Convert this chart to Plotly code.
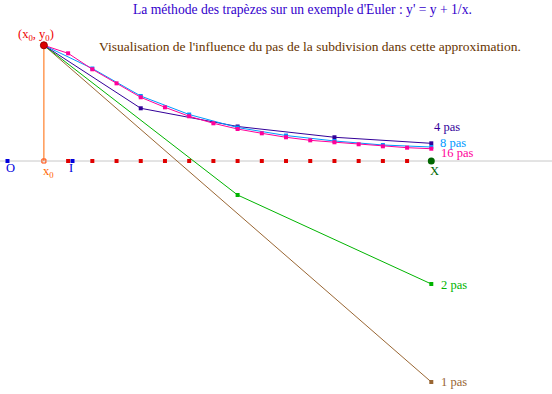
import plotly.graph_objects as go

W, H = 552, 394
# frame: origin O and unit I (math units), in window pixels
O_PX, AXIS_PY, UNIT = 7.5, 161.0, 65.0

# abscissas of the subdivision (x0 .. X)
x16 = [0.56, 0.9325, 1.305, 1.6775, 2.05, 2.4225, 2.795, 3.1675, 3.54,
       3.9125, 4.285, 4.6575, 5.03, 5.4025, 5.775, 6.1475, 6.52]
x8 = [0.56, 1.305, 2.05, 2.795, 3.54, 4.285, 5.03, 5.775, 6.52]
x4 = [0.56, 2.05, 3.54, 5.03, 6.52]
x2 = [0.56, 3.54, 6.52]
x1 = [0.56, 6.52]

y0 = 1.78
y_1pas = [1.78, -3.40]
y_2pas = [1.78, -0.523, -1.892]
y_4pas = [1.78, 0.811, 0.531, 0.365, 0.272]
y_8pas = [1.78, 1.423, 1.000, 0.715, 0.515, 0.392, 0.308, 0.246, 0.215]
y_16pas = [1.78, 1.657, 1.411, 1.195, 0.980, 0.826, 0.688, 0.580, 0.492,
           0.426, 0.365, 0.318, 0.288, 0.257, 0.226, 0.205, 0.189]

labels = ["1 pas", "2 pas", "4 pas", "8 pas", "16 pas"]

C_BROWN, C_GREEN, C_DBLUE, C_LBLUE, C_PINK = "#996633", "#00b400", "#330099", "#0099ff", "#ff0099"
FONT = "Liberation Serif"

fig = go.Figure()

# axis ranges so that window pixels map onto the frame
xr = [(0 - O_PX) / UNIT, (W - O_PX) / UNIT]
yr = [(AXIS_PY - H) / UNIT, AXIS_PY / UNIT]

# horizontal axis
fig.add_trace(go.Scatter(x=xr, y=[0, 0], mode="lines",
                         line=dict(color="#c8c8c8", width=1), hoverinfo="skip"))
# vertical segment x0 -> (x0, y0)
fig.add_trace(go.Scatter(x=[x16[0], x16[0]], y=[0, y0], mode="lines",
                         line=dict(color="#ff6600", width=1), hoverinfo="skip"))

def series(xs, ys, color, marker_idx):
    fig.add_trace(go.Scatter(x=xs, y=ys, mode="lines",
                             line=dict(color=color, width=1), hoverinfo="skip"))
    fig.add_trace(go.Scatter(x=[xs[i] for i in marker_idx], y=[ys[i] for i in marker_idx],
                             mode="markers",
                             marker=dict(symbol="square", size=4, color=color,
                                         line=dict(width=0)),
                             hoverinfo="skip"))

series(x1, y_1pas, C_BROWN, [1])
series(x2, y_2pas, C_GREEN, [1, 2])
series(x4, y_4pas, C_DBLUE, range(1, 5))
series(x8, y_8pas, C_LBLUE, range(1, 9))
series(x16, y_16pas, C_PINK, range(1, 17))

# subdivision ticks on the axis
fig.add_trace(go.Scatter(x=x16[1:16], y=[0] * 15, mode="markers",
                         marker=dict(symbol="square", size=4, color="#e00000", line=dict(width=0)),
                         hoverinfo="skip"))
# O and I
fig.add_trace(go.Scatter(x=[0, 1], y=[0, 0], mode="markers",
                         marker=dict(symbol="square", size=4, color="#0000dd", line=dict(width=0)),
                         hoverinfo="skip"))
# x0 on axis
fig.add_trace(go.Scatter(x=[x16[0]], y=[0], mode="markers",
                         marker=dict(symbol="square-open", size=4, color="#ff4400",
                                     line=dict(width=1)), hoverinfo="skip"))
# X point
fig.add_trace(go.Scatter(x=[x16[-1]], y=[0], mode="markers",
                         marker=dict(symbol="circle", size=7, color="#006600"), hoverinfo="skip"))
# (x0, y0) point
fig.add_trace(go.Scatter(x=[x16[0]], y=[y0], mode="markers",
                         marker=dict(symbol="circle", size=7, color="#dd0000",
                                     line=dict(color="#990000", width=1)), hoverinfo="skip"))

def px(xp, yp):
    return xp / W, 1 - yp / H

def text(t, xp, yp, color, size=13, anchor="center"):
    x, y = px(xp, yp)
    fig.add_annotation(x=x, y=y, xref="paper", yref="paper", text=t, showarrow=False,
                       xanchor=anchor, yanchor="middle",
                       font=dict(family=FONT, size=size, color=color))

text("La méthode des trapèzes sur un exemple d'Euler : y' = y + 1/x.", 302, 10, "#3300cc", 13.6)
text("Visualisation de l'influence du pas de la subdivision dans cette approximation.", 310, 46, "#663300", 13.5)
text("(x<sub>0</sub>, y<sub>0</sub>)", 36, 35, "#ee0000", 12.5)
text("O", 11, 168, "#0000dd", 12.5)
text("x<sub>0</sub>", 48, 172, "#ff6600", 12.5)
text("I", 71, 168, "#0000dd", 12.5)
text("X", 435, 171, "#006600", 12.5)

label_pos = [(439, 382), (439, 285), (432, 127), (438, 143), (439, 153)]
label_col = [C_BROWN, C_GREEN, C_DBLUE, C_LBLUE, C_PINK]
for lab, (lx, ly), c in zip(labels, label_pos, label_col):
    text(lab, lx, ly, c, 12.5, anchor="left")

fig.update_layout(
    width=W, height=H, margin=dict(l=0, r=0, t=0, b=0),
    paper_bgcolor="white", plot_bgcolor="white", showlegend=False,
    xaxis=dict(range=xr, visible=False, fixedrange=True),
    yaxis=dict(range=yr, visible=False, fixedrange=True),
)
# remove the default 8px page margin so the figure fills the window exactly
fig.write_html("out.html", config={"displayModeBar": False},
               post_script="document.body.style.margin='0';document.body.style.overflow='hidden';")
